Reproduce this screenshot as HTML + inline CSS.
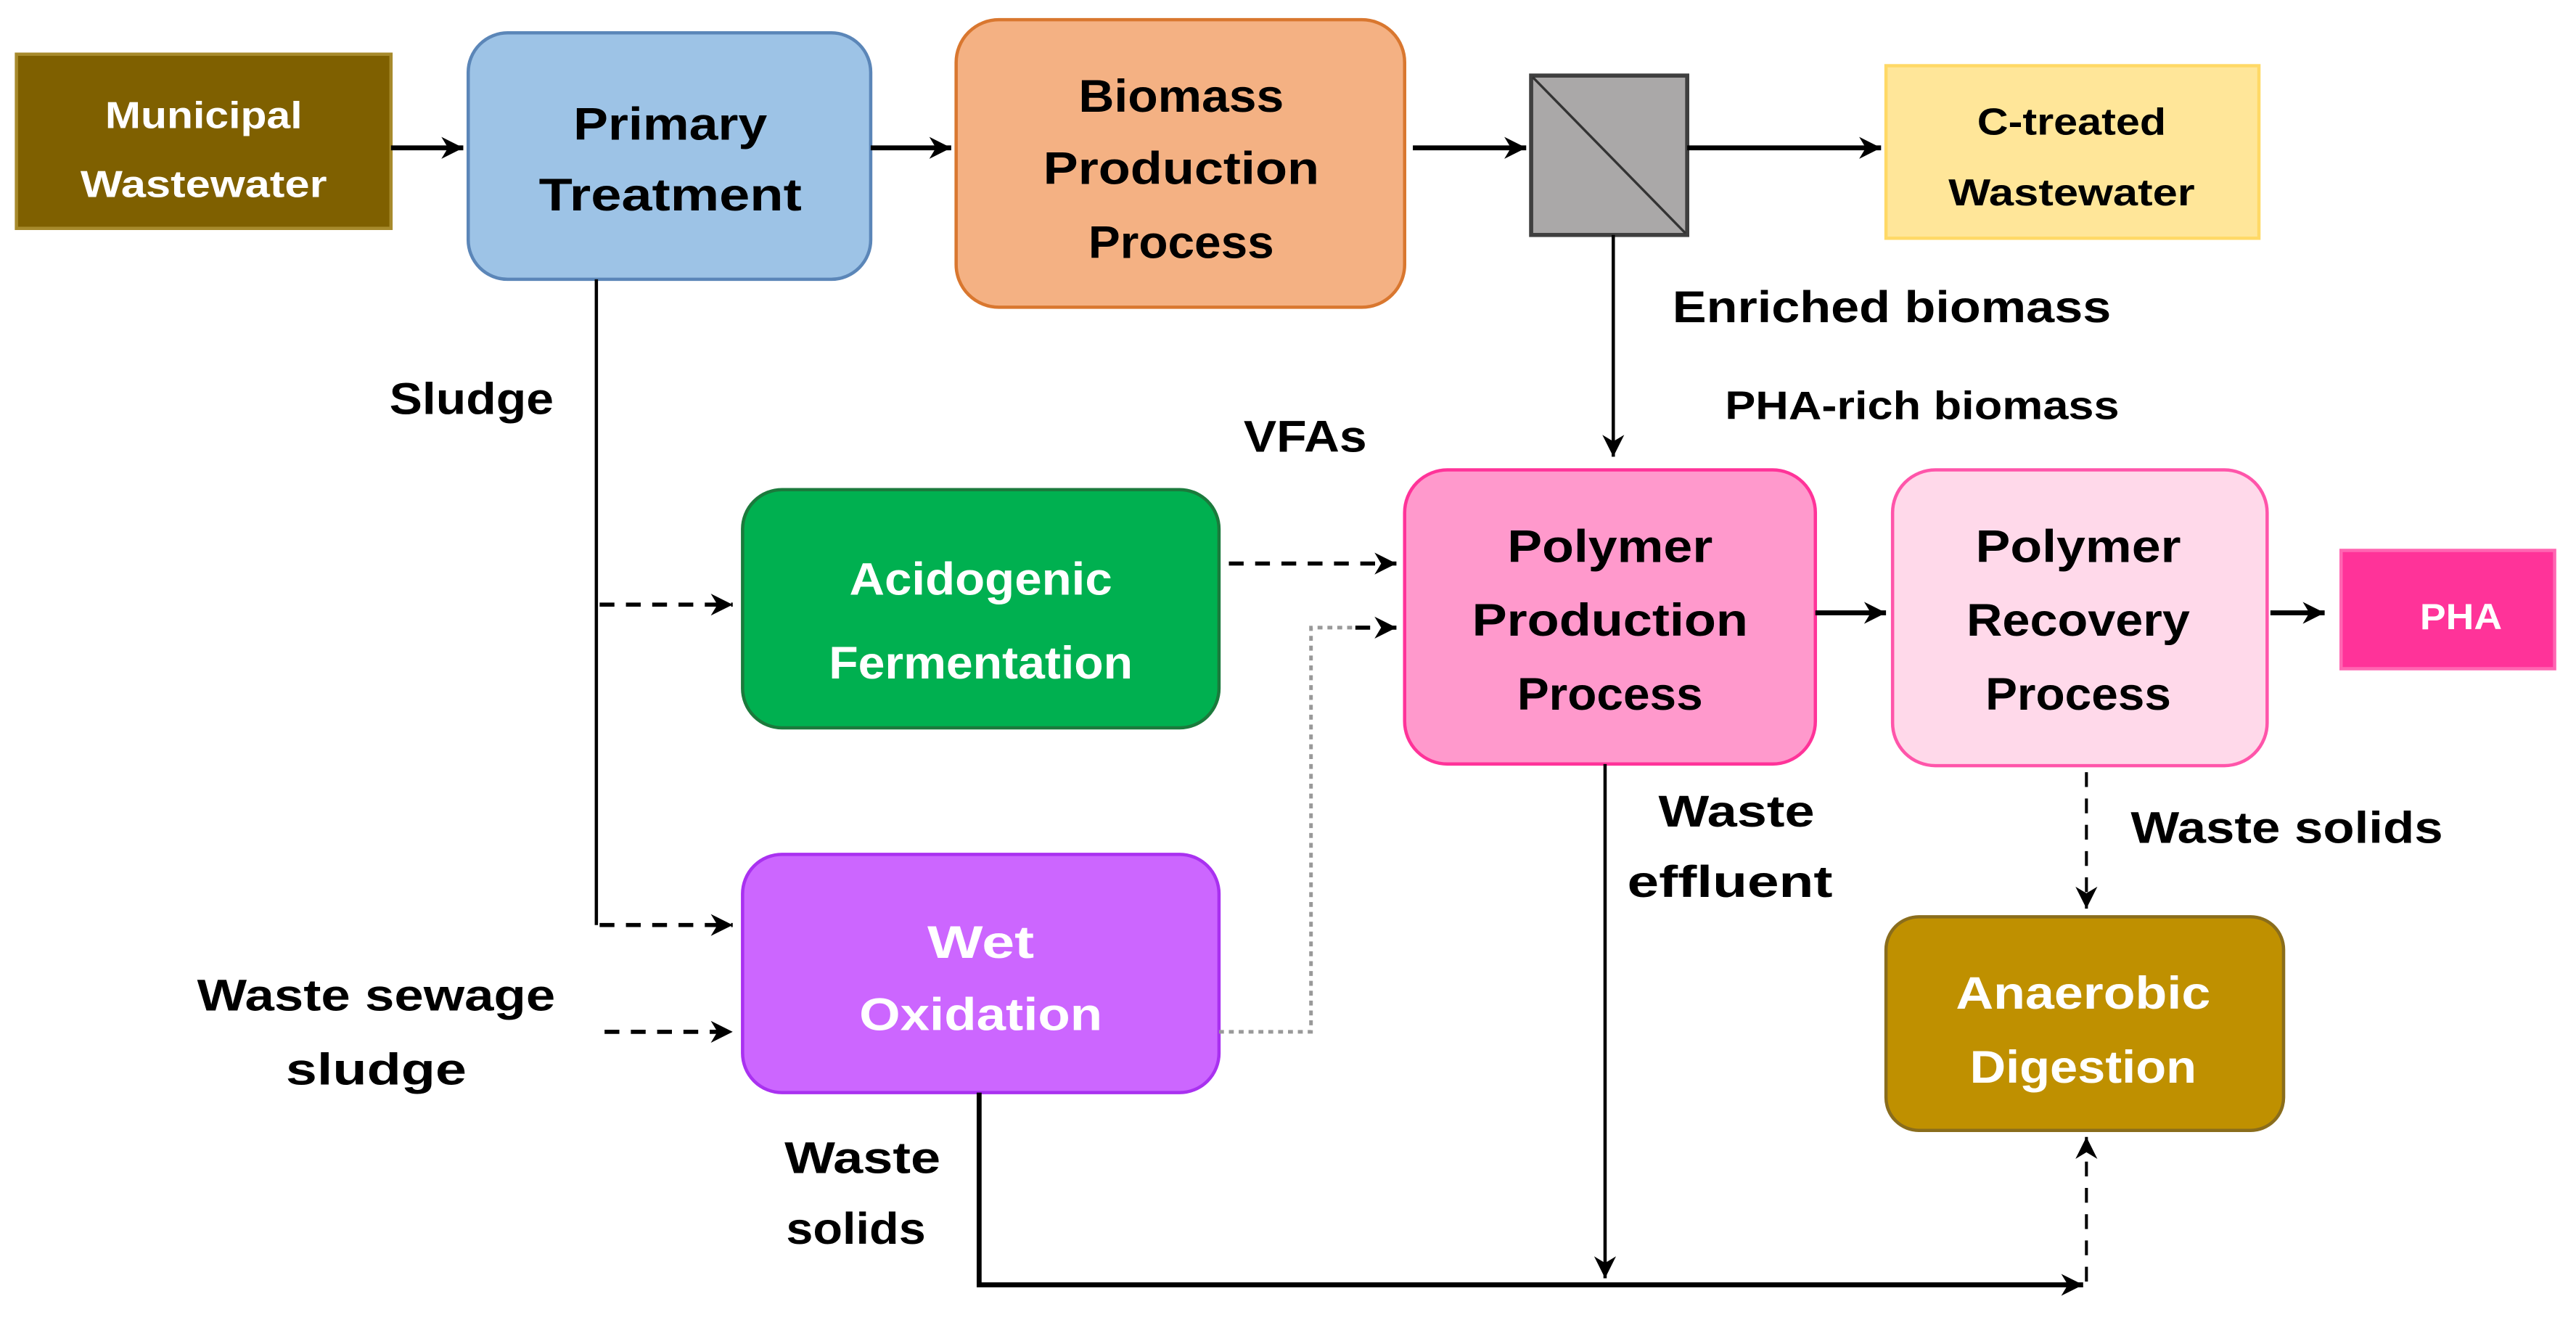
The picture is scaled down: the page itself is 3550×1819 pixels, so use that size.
<!DOCTYPE html>
<html><head><meta charset="utf-8"><style>
html,body{margin:0;padding:0;background:#fff;}
svg{display:block;}
text{font-family:"Liberation Sans",sans-serif;font-weight:bold;}
</style></head><body>
<svg width="3550" height="1819" viewBox="0 0 1568 803.4" preserveAspectRatio="none" xmlns="http://www.w3.org/2000/svg">
<defs>
<marker id="a" viewBox="0 0 12 12" refX="11" refY="6" markerWidth="16" markerHeight="16" markerUnits="userSpaceOnUse" orient="auto">
<path d="M1,1 L11,6 L1,11 L4,6 Z" fill="#000"/>
</marker>
</defs>
<rect x="10" y="33" width="228" height="106" fill="#7f6000" stroke="#a78a2c" stroke-width="2"/>
<rect x="285" y="20" width="245" height="150" rx="24" fill="#9dc3e6" stroke="#5b86b8" stroke-width="2"/>
<rect x="582" y="12" width="273" height="175" rx="26" fill="#f4b183" stroke="#d9772f" stroke-width="2"/>
<rect x="932" y="46" width="95" height="97" fill="#aaa8a8" stroke="#3f3f3f" stroke-width="2.5"/>
<line x1="933" y1="47" x2="1026" y2="142" stroke="#333" stroke-width="1.5"/>
<rect x="1148" y="40" width="227" height="105" fill="#ffe699" stroke="#ffd966" stroke-width="2"/>
<rect x="452" y="298" width="290" height="145" rx="24" fill="#00b050" stroke="#1b7a3c" stroke-width="2"/>
<rect x="452" y="520" width="290" height="145" rx="24" fill="#cc66ff" stroke="#a931f0" stroke-width="2"/>
<rect x="855" y="286" width="250" height="179" rx="26" fill="#ff99cc" stroke="#ff3399" stroke-width="2"/>
<rect x="1152" y="286" width="228" height="180" rx="26" fill="#ffd9ea" stroke="#ff55aa" stroke-width="2"/>
<rect x="1425" y="335" width="130" height="72" fill="#ff3399" stroke="#ff66b2" stroke-width="2"/>
<rect x="1148" y="558" width="242" height="130" rx="20" fill="#bf9000" stroke="#8a6d1c" stroke-width="2"/>
<g stroke="#000" stroke-width="3" fill="none">
<line x1="238" y1="90" x2="282" y2="90" marker-end="url(#a)"/>
<line x1="530" y1="90" x2="579" y2="90" marker-end="url(#a)"/>
<line x1="860" y1="90" x2="929" y2="90" marker-end="url(#a)"/>
<line x1="1027" y1="90" x2="1145" y2="90" marker-end="url(#a)"/>
<line x1="1105" y1="373" x2="1148" y2="373" marker-end="url(#a)"/>
<line x1="1382" y1="373" x2="1415" y2="373" marker-end="url(#a)"/>
</g>
<g stroke="#000" stroke-width="2" fill="none">
<line x1="982" y1="143" x2="982" y2="278" marker-end="url(#a)"/>
<line x1="363" y1="170" x2="363" y2="563"/>
<line x1="977" y1="465" x2="977" y2="778" marker-end="url(#a)"/>
<polyline points="596,665 596,782 1268,782" stroke-width="3" marker-end="url(#a)"/>
</g>
<g stroke="#000" stroke-width="2.5" fill="none" stroke-dasharray="9,7">
<line x1="365" y1="368" x2="446" y2="368" marker-end="url(#a)"/>
<line x1="365" y1="563" x2="446" y2="563" marker-end="url(#a)"/>
<line x1="368" y1="628" x2="446" y2="628" marker-end="url(#a)"/>
<line x1="748" y1="343" x2="850" y2="343" marker-end="url(#a)"/>
<line x1="825" y1="382" x2="850" y2="382" marker-end="url(#a)"/>
<line x1="1270" y1="470" x2="1270" y2="553" stroke-width="1.8" marker-end="url(#a)"/>
<line x1="1270" y1="780" x2="1270" y2="692" stroke-width="1.8" marker-end="url(#a)"/>
</g>
<polyline points="742,628 798,628 798,382 825,382" stroke="#999" stroke-width="2.2" fill="none" stroke-dasharray="3,3"/>
<g font-size="23" fill="#fff" text-anchor="middle">
<text x="124" y="78" textLength="120" lengthAdjust="spacingAndGlyphs">Municipal</text>
<text x="124" y="120" textLength="150" lengthAdjust="spacingAndGlyphs">Wastewater</text>
</g>
<g font-size="28" fill="#000" text-anchor="middle">
<text x="408" y="85" textLength="118" lengthAdjust="spacingAndGlyphs">Primary</text>
<text x="408" y="128" textLength="160" lengthAdjust="spacingAndGlyphs">Treatment</text>
<text x="719" y="68" textLength="125" lengthAdjust="spacingAndGlyphs">Biomass</text>
<text x="719" y="112" textLength="168" lengthAdjust="spacingAndGlyphs">Production</text>
<text x="719" y="157" textLength="113" lengthAdjust="spacingAndGlyphs">Process</text>
<text x="980" y="342" textLength="125" lengthAdjust="spacingAndGlyphs">Polymer</text>
<text x="980" y="387" textLength="168" lengthAdjust="spacingAndGlyphs">Production</text>
<text x="980" y="432" textLength="113" lengthAdjust="spacingAndGlyphs">Process</text>
<text x="1265" y="342" textLength="125" lengthAdjust="spacingAndGlyphs">Polymer</text>
<text x="1265" y="387" textLength="136" lengthAdjust="spacingAndGlyphs">Recovery</text>
<text x="1265" y="432" textLength="113" lengthAdjust="spacingAndGlyphs">Process</text>
</g>
<g font-size="23" fill="#000" text-anchor="middle">
<text x="1261" y="82" textLength="115" lengthAdjust="spacingAndGlyphs">C-treated</text>
<text x="1261" y="125" textLength="150" lengthAdjust="spacingAndGlyphs">Wastewater</text>
</g>
<g font-size="28" fill="#fff" text-anchor="middle">
<text x="597" y="362" textLength="160" lengthAdjust="spacingAndGlyphs">Acidogenic</text>
<text x="597" y="413" textLength="185" lengthAdjust="spacingAndGlyphs">Fermentation</text>
<text x="597" y="583" textLength="65" lengthAdjust="spacingAndGlyphs">Wet</text>
<text x="597" y="627" textLength="148" lengthAdjust="spacingAndGlyphs">Oxidation</text>
<text x="1268" y="614" textLength="155" lengthAdjust="spacingAndGlyphs">Anaerobic</text>
<text x="1268" y="659" textLength="138" lengthAdjust="spacingAndGlyphs">Digestion</text>
<text x="1498" y="383" font-size="22" textLength="50" lengthAdjust="spacingAndGlyphs">PHA</text>
</g>
<g font-size="27" fill="#000">
<text x="1018" y="196" textLength="267" lengthAdjust="spacingAndGlyphs">Enriched biomass</text>
<text x="1050" y="255" font-size="24" textLength="240" lengthAdjust="spacingAndGlyphs">PHA-rich biomass</text>
<text x="757" y="275" textLength="75" lengthAdjust="spacingAndGlyphs">VFAs</text>
<text x="237" y="252" textLength="100" lengthAdjust="spacingAndGlyphs">Sludge</text>
<text x="1297" y="513" textLength="190" lengthAdjust="spacingAndGlyphs">Waste solids</text>
</g>
<g font-size="27" fill="#000" text-anchor="middle">
<text x="229" y="615" textLength="218" lengthAdjust="spacingAndGlyphs">Waste sewage</text>
<text x="229" y="660" textLength="110" lengthAdjust="spacingAndGlyphs">sludge</text>
<text x="1057" y="503" textLength="95" lengthAdjust="spacingAndGlyphs">Waste</text>
<text x="1053" y="546" textLength="125" lengthAdjust="spacingAndGlyphs">effluent</text>
<text x="525" y="714" textLength="95" lengthAdjust="spacingAndGlyphs">Waste</text>
<text x="521" y="757" textLength="85" lengthAdjust="spacingAndGlyphs">solids</text>
</g>
</svg>
</body></html>
